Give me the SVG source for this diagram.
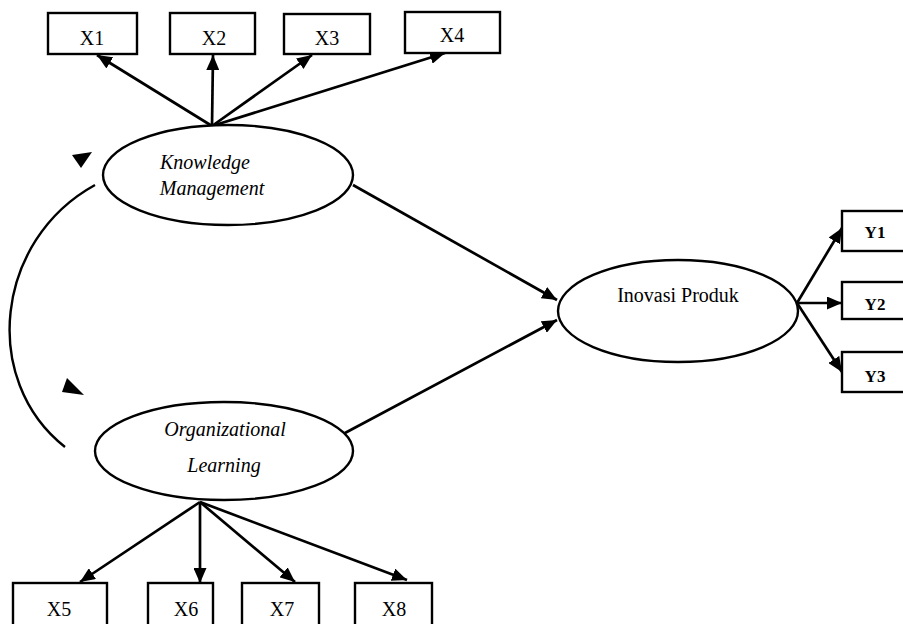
<svg xmlns="http://www.w3.org/2000/svg" width="903" height="624" viewBox="0 0 903 624">
<defs>
<marker id="ah" viewBox="0 0 15 13" refX="15" refY="6.5" markerWidth="15" markerHeight="13" markerUnits="userSpaceOnUse" orient="auto">
<path d="M0,0 L15,6.5 L0,13 Z" fill="#000"/>
</marker>
</defs>
<style>
.box{fill:#fff;stroke:#000;stroke-width:2.4}
.ell{fill:#fff;stroke:#000;stroke-width:2.4}
.lbl{font-family:"Liberation Serif","Times New Roman",serif;font-size:20px;fill:#000;text-anchor:middle}
.ylbl{font-family:"Liberation Serif","Times New Roman",serif;font-size:17px;font-weight:bold;fill:#000;text-anchor:middle}
.it{font-family:"Liberation Serif","Times New Roman",serif;font-style:italic;font-size:20px;fill:#000;text-anchor:middle}
.c{stroke:#000;stroke-width:2.7;fill:none;marker-end:url(#ah)}
.cv{stroke:#000;stroke-width:2.4;fill:none}
</style>
<rect width="903" height="624" fill="#fff"/>
<g id="connectors">
<line class="c" x1="212" y1="126" x2="97" y2="55"/>
<line class="c" x1="212" y1="126" x2="213" y2="55"/>
<line class="c" x1="212" y1="126" x2="312" y2="55"/>
<line class="c" x1="212" y1="126" x2="445" y2="53"/>
<line class="c" x1="200" y1="502" x2="80" y2="582"/>
<line class="c" x1="200" y1="502" x2="200" y2="583"/>
<line class="c" x1="200" y1="502" x2="295" y2="582"/>
<line class="c" x1="200" y1="502" x2="407" y2="580"/>
<line class="c" x1="353" y1="185" x2="557" y2="300"/>
<line class="c" x1="345" y1="433" x2="557" y2="320"/>
<line class="c" x1="797" y1="303" x2="842" y2="228"/>
<line class="c" x1="797" y1="303" x2="842" y2="303"/>
<line class="c" x1="797" y1="303" x2="842" y2="372"/>
<path class="cv" d="M95,185 C-5,240 -20,380 65,447"/>
<path d="M72,155 L92,152 L81,168 Z" fill="#000"/>
<path d="M84,395 L67,378 L62,392 Z" fill="#000"/>
</g>
<g id="X1"><rect class="box" x="48" y="13" width="89" height="41"/><text class="lbl" x="92" y="45">X1</text></g>
<g id="X2"><rect class="box" x="170" y="13" width="85" height="41"/><text class="lbl" x="214" y="45">X2</text></g>
<g id="X3"><rect class="box" x="284" y="14" width="86" height="40"/><text class="lbl" x="327" y="45">X3</text></g>
<g id="X4"><rect class="box" x="405" y="12" width="95" height="41"/><text class="lbl" x="452" y="42">X4</text></g>
<g id="KM"><ellipse class="ell" cx="228" cy="175" rx="125" ry="50"/><text class="it" x="205" y="169">Knowledge</text><text class="it" x="212" y="195">Management</text></g>
<g id="OL"><ellipse class="ell" cx="224" cy="451" rx="129" ry="49"/><text class="it" x="225" y="436" font-size="17">Organizational</text><text class="it" x="224" y="472" font-size="17">Learning</text></g>
<g id="IP"><ellipse class="ell" cx="678" cy="311" rx="120" ry="51"/><text class="lbl" x="678" y="302">Inovasi Produk</text></g>
<g id="X5"><rect class="box" x="13" y="583" width="94" height="50"/><text class="lbl" x="59" y="616">X5</text></g>
<g id="X6"><rect class="box" x="148" y="583" width="65" height="50"/><text class="lbl" x="186" y="616">X6</text></g>
<g id="X7"><rect class="box" x="242" y="583" width="77" height="50"/><text class="lbl" x="282" y="616">X7</text></g>
<g id="X8"><rect class="box" x="355" y="583" width="77" height="50"/><text class="lbl" x="394" y="616">X8</text></g>
<g id="Y1"><rect class="box" x="842" y="211" width="70" height="40"/><text class="ylbl" x="875" y="238">Y1</text></g>
<g id="Y2"><rect class="box" x="842" y="282" width="70" height="37"/><text class="ylbl" x="875" y="310">Y2</text></g>
<g id="Y3"><rect class="box" x="842" y="352" width="70" height="40"/><text class="ylbl" x="875" y="382">Y3</text></g>
</svg>
